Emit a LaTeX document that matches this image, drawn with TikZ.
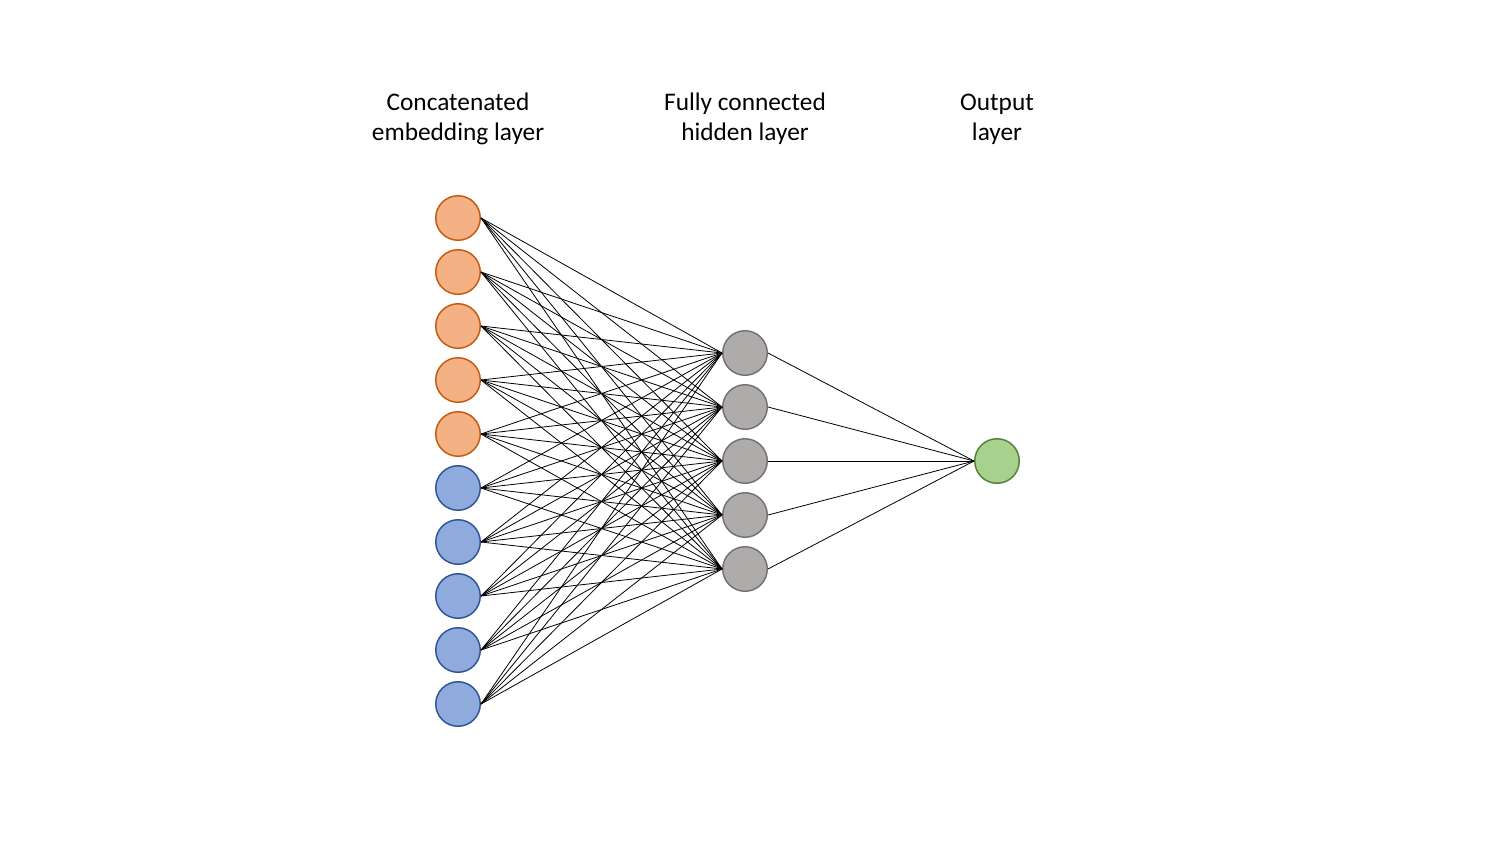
\documentclass[tikz,border=0pt]{standalone}
\usepackage{fontspec}
\setmainfont{Carlito}
\usetikzlibrary{positioning}
\definecolor{embfill}{HTML}{F4B183}
\definecolor{embdraw}{HTML}{C55A11}
\definecolor{catfill}{HTML}{8FAADC}
\definecolor{catdraw}{HTML}{2F5597}
\definecolor{hidfill}{HTML}{AEABAB}
\definecolor{hiddraw}{HTML}{767171}
\definecolor{outfill}{HTML}{A9D18E}
\definecolor{outdraw}{HTML}{548235}
\tikzset{unit/.style={circle, inner sep=0pt, minimum size=33.4pt, line width=1.1pt},
  orangeunit/.style={unit, draw=embdraw, fill=embfill},
  blueunit/.style={unit, draw=catdraw, fill=catfill},
  greyunit/.style={unit, draw=hiddraw, fill=hidfill},
  greenunit/.style={unit, draw=outdraw, fill=outfill},
  link/.style={black, line width=0.6pt},
  heading/.style={align=center, font=\fontsize{19}{22.5}\selectfont}}

\begin{document}
\begin{tikzpicture}[x=0.75pt, y=-0.75pt]
  \useasboundingbox (0,0) rectangle (1509,843);

  % headings
  \node[heading] (lblin)  at (458,119) {Concatenated\\embedding layer};
  \node[heading] (lblhid) at (745,119) {Fully connected\\hidden layer};
  \node[heading] (lblout) at (997,119) {Output\\layer};

  % input units
  \foreach \i in {1,...,5}
    \node[orangeunit] (e\i) at (458, 164+54*\i) {};
  \foreach \i in {6,...,10}
    \node[blueunit] (e\i) at (458, 164+54*\i) {};

  % hidden units
  \foreach \j in {1,...,5}
    \node[greyunit] (h\j) at (745, 299+54*\j) {};

  % output unit
  \node[greenunit] (o) at (997, 461) {};

  % links
  \foreach \i in {1,...,10}
    \foreach \j in {1,...,5}
      \draw[link] (e\i.east) -- (h\j.west);
  \foreach \j in {1,...,5}
    \draw[link] (h\j.east) -- (o.west);
\end{tikzpicture}
\end{document}
